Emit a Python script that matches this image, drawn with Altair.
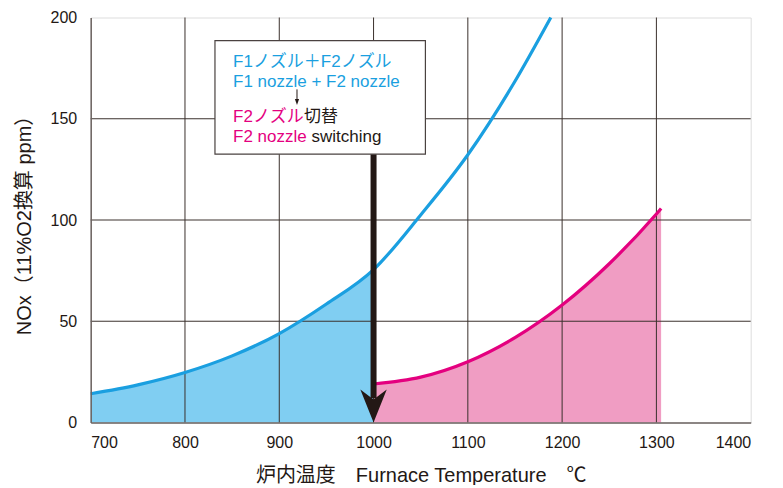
import altair as alt
import pandas as pd

# ---- data ----
blue_temp = [700, 750, 800, 850, 900, 950, 1000, 1050, 1100, 1150, 1188]
blue_nox = [14.2, 18.6, 24.7, 32.9, 43.9, 58.5, 75.5, 102.5, 132.2, 168.5, 200]
fill_blue_temp = [700, 750, 800, 850, 900, 950, 1000]
fill_blue_nox = [14.2, 18.6, 24.7, 32.9, 43.9, 58.5, 75.5]

pink_temp = [1000, 1050, 1100, 1150, 1200, 1250, 1300, 1305]
pink_nox = [19, 22.4, 30, 41.9, 58, 78.4, 103, 105.7]

x_ticks = [700, 800, 900, 1000, 1100, 1200, 1300, 1400]
y_ticks = [0, 50, 100, 150, 200]
x_grid = [800, 900, 1000, 1100, 1200, 1300]
y_grid = [50, 100, 150]

# annotation (switch-over arrow and note box)
arrow_x = [1000]
arrow_top = [132.7]
arrow_bottom = [12]
box_x = [831.8]
box_x2 = [1055]
box_y = [188.6]
box_y2 = [132.5]

note_x = [851, 851]
note_y = [175.8, 165.9]
note_text = ["F1ノズル＋F2ノズル", "F1 nozzle + F2 nozzle"]
pink_x = [851, 851]
pink_y = [148.4, 138.6]
pink_text = ["F2ノズル", "F2 nozzle"]
black_text = ["切替", "switching"]
black_dx = [71, 78.5]
small_arrow_x = [918.8]
small_arrow_top = [164.5]
small_arrow_bottom = [158.5]
small_arrow_tip = [156.8]

FONT = "Liberation Sans, Noto Sans CJK JP, sans-serif"
INK = "#231815"
BLUE_LINE = "#1a9fe0"
BLUE_FILL = "#80cef2"
PINK_LINE = "#e4007f"
PINK_FILL = "#f09dc3"
GRID = "#3a302c"

xs = alt.Scale(domain=[700, 1400], nice=False, zero=False)
ys = alt.Scale(domain=[0, 200], nice=False)

blue_df = pd.DataFrame({"t": blue_temp, "v": blue_nox})
blue_fill_df = pd.DataFrame({"t": fill_blue_temp, "v": fill_blue_nox})
pink_df = pd.DataFrame({"t": pink_temp, "v": pink_nox})

x_axis = alt.Axis(
    values=x_ticks, format="d", grid=False, ticks=False, labelPadding=12, labelFontSize=16,
    labelColor=INK, labelFont=FONT, domain=True, domainColor="#6b6360", domainWidth=1.5,
    title="炉内温度\u3000Furnace Temperature\u3000℃", titleFont=FONT, titleFontSize=20,
    titleFontWeight="normal", titleColor=INK, titlePadding=15, zindex=1,
)
y_axis = alt.Axis(
    values=y_ticks, format="d", grid=False, ticks=False, labelPadding=14, labelFontSize=16,
    labelColor=INK, labelFont=FONT, domain=True, domainColor="#6b6360", domainWidth=1.5,
    title="NOx（11%O2換算 ppm）", titleFont=FONT, titleFontSize=20,
    titleFontWeight="normal", titleColor=INK, titlePadding=16, zindex=1,
)

blue_area = alt.Chart(blue_fill_df).mark_area(color=BLUE_FILL, interpolate="monotone").encode(
    x=alt.X("t:Q", scale=xs, axis=x_axis), y=alt.Y("v:Q", scale=ys, axis=y_axis)
)
pink_area = alt.Chart(pink_df).mark_area(color=PINK_FILL, interpolate="monotone").encode(
    x=alt.X("t:Q", scale=xs), y=alt.Y("v:Q", scale=ys)
)
vgrid = alt.Chart(pd.DataFrame({"t": x_grid})).mark_rule(color=GRID, strokeWidth=1).encode(
    x=alt.X("t:Q", scale=xs)
)
hgrid = alt.Chart(pd.DataFrame({"v": y_grid})).mark_rule(color=GRID, strokeWidth=1).encode(
    y=alt.Y("v:Q", scale=ys)
)
blue_line = alt.Chart(blue_df).mark_line(color=BLUE_LINE, strokeWidth=3.2, interpolate="monotone").encode(
    x=alt.X("t:Q", scale=xs), y=alt.Y("v:Q", scale=ys)
)
pink_line = alt.Chart(pink_df).mark_line(color=PINK_LINE, strokeWidth=3.2, interpolate="monotone").encode(
    x=alt.X("t:Q", scale=xs), y=alt.Y("v:Q", scale=ys)
)

arrow_df = pd.DataFrame({"t": arrow_x, "top": arrow_top, "bot": arrow_bottom, "tip": [0]})
arrow_shaft = alt.Chart(arrow_df).mark_rule(color=INK, strokeWidth=6).encode(
    x=alt.X("t:Q", scale=xs), y=alt.Y("top:Q", scale=ys), y2="bot:Q"
)
arrow_head = alt.Chart(arrow_df).mark_point(
    shape="M0,1 L-0.8,-1 L0,-0.4 L0.8,-1 Z", size=1089, filled=True, fill=INK,
    strokeWidth=0, opacity=1, yOffset=-16.5,
).encode(x=alt.X("t:Q", scale=xs), y=alt.Y("tip:Q", scale=ys))

box_df = pd.DataFrame({"x": box_x, "x2": box_x2, "y": box_y, "y2": box_y2})
box = alt.Chart(box_df).mark_rect(fill="white", stroke="#4a4240", strokeWidth=1.2).encode(
    x=alt.X("x:Q", scale=xs), x2="x2:Q", y=alt.Y("y:Q", scale=ys), y2="y2:Q"
)

note_df = pd.DataFrame({"x": note_x, "y": note_y, "text": note_text})
notes = alt.Chart(note_df).mark_text(
    align="left", baseline="alphabetic", font=FONT, fontSize=17, color=BLUE_LINE
).encode(x=alt.X("x:Q", scale=xs), y=alt.Y("y:Q", scale=ys), text="text:N")

pink_notes = alt.Chart(pd.DataFrame({"x": pink_x, "y": pink_y, "text": pink_text})).mark_text(
    align="left", baseline="alphabetic", font=FONT, fontSize=17, color=PINK_LINE
).encode(x=alt.X("x:Q", scale=xs), y=alt.Y("y:Q", scale=ys), text="text:N")

black_layers = []
for i in range(len(black_text)):
    bdf = pd.DataFrame({"x": [pink_x[i]], "y": [pink_y[i]], "text": [black_text[i]]})
    black_layers.append(
        alt.Chart(bdf).mark_text(
            align="left", baseline="alphabetic", font=FONT, fontSize=17, color=INK, dx=black_dx[i]
        ).encode(x=alt.X("x:Q", scale=xs), y=alt.Y("y:Q", scale=ys), text="text:N")
    )

sa_df = pd.DataFrame({"x": small_arrow_x, "top": small_arrow_top,
                      "bot": small_arrow_bottom, "tip": small_arrow_tip})
small_shaft = alt.Chart(sa_df).mark_rule(color=INK, strokeWidth=1).encode(
    x=alt.X("x:Q", scale=xs), y=alt.Y("top:Q", scale=ys), y2="bot:Q"
)
small_head = alt.Chart(sa_df).mark_point(
    shape="M0,1 L-0.7,-1 L0.7,-1 Z", size=36, filled=True, fill=INK,
    strokeWidth=0, opacity=1, yOffset=-3,
).encode(x=alt.X("x:Q", scale=xs), y=alt.Y("tip:Q", scale=ys))

chart = alt.layer(
    blue_area, pink_area, vgrid, hgrid, blue_line, pink_line,
    arrow_shaft, arrow_head, box, notes, pink_notes, *black_layers, small_shaft, small_head,
).properties(
    width=660, height=405,
    padding={"left": 82.7, "top": 9.5, "right": 24, "bottom": 62},
    autosize=alt.AutoSizeParams(type="none"),
).configure_view(
    fill="#fffadb", stroke="#6b6360", strokeWidth=1.5
).configure(background="white")

chart.save("out.html", embed_options={"renderer": "svg", "actions": False})
